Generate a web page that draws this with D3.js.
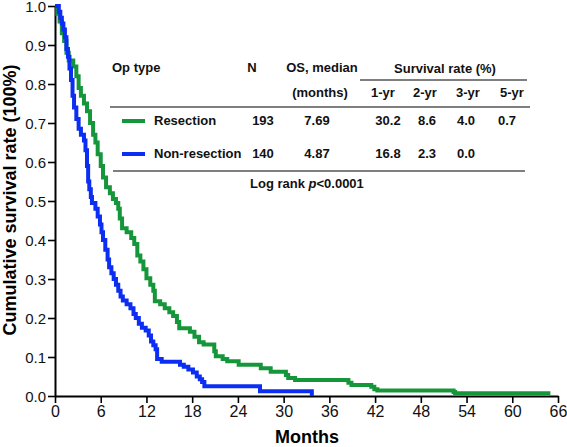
<!DOCTYPE html>
<html><head><meta charset="utf-8">
<script src="https://cdn.jsdelivr.net/npm/d3@7"></script>
<style>body{margin:0;background:#fff}svg{display:block;font-family:"Liberation Sans",Arial,sans-serif}</style>
</head><body><svg id="c" width="567" height="447"></svg>
<script>
const xTicks=[0,6,12,18,24,30,36,42,48,54,60,66];
const yTicks=[0,0.1,0.2,0.3,0.4,0.5,0.6,0.7,0.8,0.9,1.0];
const groups=["Resection","Non-resection"];
const groupN=[193,140];
const groupMedian=["7.69","4.87"];
const rateYears=["1-yr","2-yr","3-yr","5-yr"];
const rates=[["30.2","8.6","4.0","0.7"],["16.8","2.3","0.0",""]];
const colors=["#16963a","#0b2ef2"];
// [months, survival after event]
const resection=[[0,1],[0.3,0.98],[0.6,0.96],[0.9,0.93],[1.2,0.91],[1.5,0.88],[1.8,0.86],[2.4,0.845],[2.8,0.82],[3.1,0.79],[3.4,0.77],[3.8,0.75],[4.2,0.73],[4.6,0.70],[5.0,0.67],[5.3,0.65],[5.6,0.62],[6.0,0.59],[6.3,0.56],[6.7,0.535],[7.2,0.52],[7.6,0.505],[8.0,0.495],[8.3,0.48],[8.5,0.455],[8.8,0.43],[9.4,0.42],[10.0,0.405],[10.4,0.39],[10.8,0.36],[11.2,0.345],[11.6,0.325],[12.0,0.302],[12.5,0.285],[12.9,0.27],[13.1,0.243],[13.8,0.235],[14.4,0.225],[15.0,0.215],[15.5,0.205],[16.0,0.19],[16.3,0.174],[17.7,0.165],[18.3,0.152],[18.9,0.138],[19.5,0.132],[20.9,0.115],[21.1,0.102],[22.0,0.095],[22.6,0.089],[24.1,0.08],[27.0,0.071],[28.3,0.062],[30.3,0.054],[30.6,0.046],[31.5,0.041],[38.5,0.034],[38.9,0.028],[41.5,0.024],[41.9,0.017],[42.3,0.014],[52.3,0.01],[52.5,0.007],[65,0.007]];
const nonResection=[[0,1],[0.5,0.985],[0.7,0.97],[0.9,0.955],[1.1,0.94],[1.3,0.92],[1.5,0.89],[1.7,0.87],[1.9,0.84],[2.1,0.81],[2.3,0.77],[2.5,0.74],[2.8,0.71],[3.1,0.685],[3.4,0.67],[3.8,0.655],[4.0,0.63],[4.2,0.59],[4.35,0.55],[4.5,0.53],[4.7,0.51],[4.85,0.495],[5.3,0.48],[5.6,0.46],[5.9,0.44],[6.1,0.42],[6.3,0.40],[6.6,0.375],[6.9,0.35],[7.1,0.33],[7.4,0.315],[7.7,0.30],[8.0,0.285],[8.3,0.27],[8.6,0.255],[8.9,0.245],[9.4,0.235],[9.9,0.225],[10.3,0.21],[10.6,0.20],[11.0,0.185],[11.4,0.175],[11.9,0.168],[12.3,0.155],[12.6,0.14],[12.9,0.13],[13.2,0.12],[13.4,0.095],[14.0,0.088],[16.4,0.08],[16.9,0.075],[17.5,0.068],[18.1,0.06],[18.6,0.05],[19.0,0.043],[19.3,0.036],[19.6,0.025],[26.9,0.012],[33.7,0.0]];
const seriesList=[resection,nonResection];

const svg=d3.select("#c");
const x=d3.scaleLinear().domain([0,66]).range([55,558]);
const y=d3.scaleLinear().domain([0,1]).range([396,6]);

const ya=svg.append("g").attr("transform","translate(55,0)")
 .call(d3.axisLeft(y).tickValues(yTicks).tickFormat(d3.format(".1f")).tickSize(7).tickSizeOuter(0));
const xa=svg.append("g").attr("transform","translate(0,396)")
 .call(d3.axisBottom(x).tickValues(xTicks).tickFormat(d3.format("d")).tickSize(7).tickSizeOuter(0));
[ya,xa].forEach(a=>{a.select(".domain").attr("stroke","#000").attr("stroke-width",2);
 a.selectAll(".tick line").attr("stroke","#000").attr("stroke-width",1.6);
 a.selectAll("text").attr("fill","#111").style("font-family","Liberation Sans, Arial").style("font-size","15px");});
ya.selectAll("text").attr("dy","0.36em").attr("x",-9);
xa.selectAll("text").attr("dy","0.78em").attr("y",9).style("font-size","16px");

const line=d3.line().x(d=>x(d[0])).y(d=>y(d[1])).curve(d3.curveStepAfter);
seriesList.forEach((s,i)=>{
 svg.append("path").datum(s).attr("d",line).attr("fill","none")
  .attr("stroke",colors[i]).attr("stroke-width",4).attr("stroke-linejoin","miter");
});

svg.append("text").attr("transform","translate(16,200) rotate(-90)").attr("text-anchor","middle")
 .style("font-weight","bold").style("font-size","18px").text("Cumulative survival rate (100%)");
svg.append("text").attr("x",307).attr("y",443).attr("text-anchor","middle")
 .style("font-weight","bold").style("font-size","18px").text("Months");

// table
const t=svg.append("g").style("font-weight","bold").style("font-size","13px").attr("fill","#111");
t.append("text").attr("x",112).attr("y",72).text("Op type");
t.append("text").attr("x",252).attr("y",72).attr("text-anchor","middle").text("N");
t.append("text").attr("x",322).attr("y",72).attr("text-anchor","middle").text("OS, median");
t.append("text").attr("x",320).attr("y",97).attr("text-anchor","middle").text("(months)");
t.append("text").attr("x",445).attr("y",73).attr("text-anchor","middle").text("Survival rate (%)");
const colX=[383,425,468,512];
const valX=[388,427,466,507];
rateYears.forEach((r,i)=>t.append("text").attr("x",colX[i]).attr("y",97).attr("text-anchor","middle").text(r));
svg.append("line").attr("x1",360).attr("x2",527).attr("y1",80).attr("y2",80).attr("stroke","#555").attr("stroke-width",1.5);
svg.append("line").attr("x1",110).attr("x2",530).attr("y1",107).attr("y2",107).attr("stroke","#555").attr("stroke-width",1.5);
svg.append("line").attr("x1",113).attr("x2",525).attr("y1",171).attr("y2",171).attr("stroke","#555").attr("stroke-width",1.5);
const rowY=[125,158];
groups.forEach((g,i)=>{
 svg.append("line").attr("x1",122).attr("x2",145).attr("y1",rowY[i]-4).attr("y2",rowY[i]-4).attr("stroke",colors[i]).attr("stroke-width",4);
 t.append("text").attr("x",154).attr("y",rowY[i]).text(g);
 t.append("text").attr("x",263).attr("y",rowY[i]).attr("text-anchor","middle").text(groupN[i]);
 t.append("text").attr("x",317).attr("y",rowY[i]).attr("text-anchor","middle").text(groupMedian[i]);
 rates[i].forEach((v,j)=>t.append("text").attr("x",valX[j]).attr("y",rowY[i]).attr("text-anchor","middle").text(v));
});
const lr=t.append("text").attr("x",250).attr("y",188);
lr.append("tspan").text("Log rank ");
lr.append("tspan").style("font-style","italic").text("p");
lr.append("tspan").text("<0.0001");
</script></body></html>
